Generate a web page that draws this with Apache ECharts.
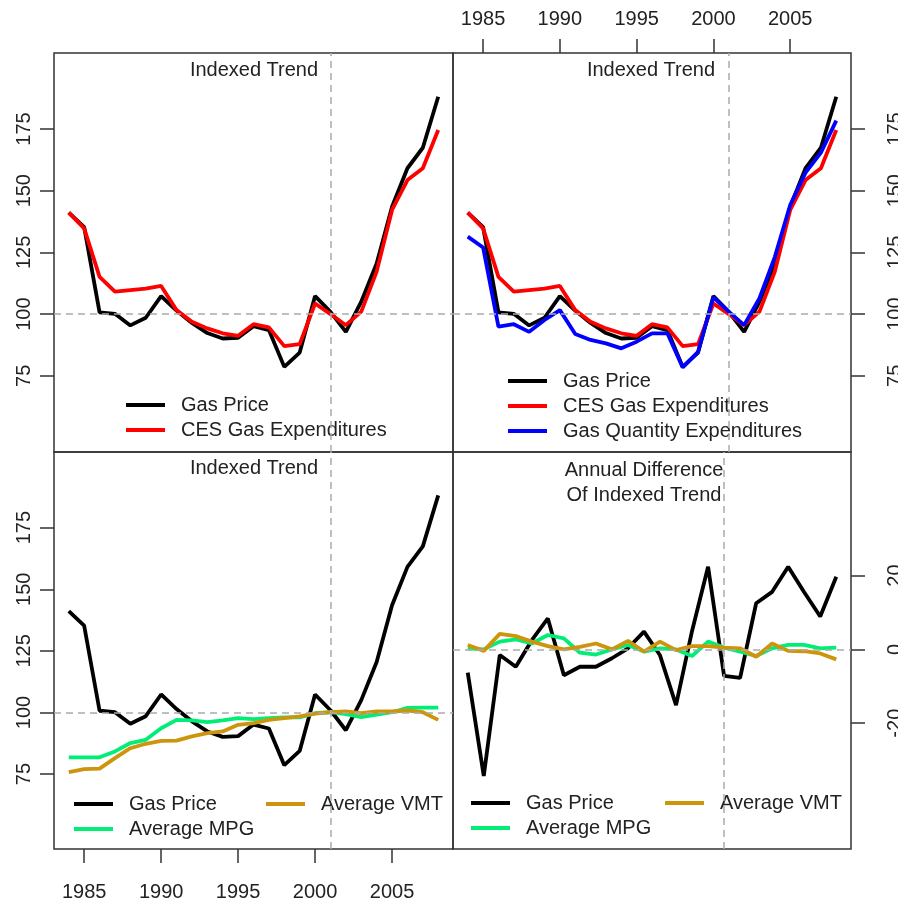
<!DOCTYPE html>
<html>
<head>
<meta charset="utf-8">
<script src="https://cdn.jsdelivr.net/npm/echarts@6/dist/echarts.min.js"></script>
<style>
html,body{margin:0;padding:0;background:#fff;}
#chart{width:898px;height:903px;}
</style>
</head>
<body>
<div id="chart"></div>
<script>
// ---- data ----
const years = [1984,1985,1986,1987,1988,1989,1990,1991,1992,1993,1994,1995,1996,1997,1998,1999,2000,2001,2002,2003,2004,2005,2006,2007,2008];
const gasPrice = [141.1,135.2,100.7,100.1,95.4,98.5,107.3,101.4,96.4,92.3,90.1,90.4,95.1,93.5,78.6,84.4,107.3,100.9,92.8,105.0,120.5,143.5,159.1,167.4,188.1];
const cesGasExp = [141.1,134.7,115.1,109.1,109.7,110.3,111.4,101.6,96.9,94.2,92.2,91.2,95.9,94.6,87.0,87.8,104.3,100.0,95.5,101.0,117.2,142.2,154.3,159.1,174.6];
const gasQtyExp = [131.4,127.0,94.9,95.9,92.8,97.6,101.6,91.9,89.5,88.1,86.1,88.8,92.2,92.2,78.4,84.7,106.8,101.0,95.5,106.4,123.2,144.2,157.3,165.4,178.4];
const avgMPG = [81.8,81.8,81.8,84.2,87.6,88.9,93.6,97.0,96.8,96.1,96.8,97.7,97.3,97.7,98.0,98.0,99.7,100.1,99.3,98.1,99.1,100.1,101.9,102.0,102.0];
const avgVMT = [75.8,77.0,77.2,81.5,85.5,87.3,88.5,88.6,90.3,91.6,92.3,95.0,95.7,97.0,97.7,98.4,99.5,100.1,100.4,99.7,100.4,100.4,100.8,100.1,97.0];

const diffYears = [1985,1986,1987,1988,1989,1990,1991,1992,1993,1994,1995,1996,1997,1998,1999,2000,2001,2002,2003,2004,2005,2006,2007,2008];
const gasPriceDiff = [-6.3,-34.3,-1.5,-4.7,2.5,8.4,-7.0,-4.7,-4.7,-2.4,0.3,4.8,-1.6,-15.1,5.0,22.4,-7.2,-7.7,12.5,15.6,22.4,15.5,8.9,19.7];
const mpgDiff = [0.3,0,2.1,2.7,1.6,3.9,3.0,-0.9,-1.4,0,1.2,-0.6,0.3,0,-1.8,2.1,0.5,-0.6,-1.8,0.3,1.2,1.2,0.3,0.5];
const vmtDiff = [1.2,-0.4,4.2,3.6,2.1,0.9,0,0.7,1.6,0,2.3,-0.6,2.1,-0.2,0.9,0.9,0.5,0.3,-2.0,1.6,-0.4,-0.5,-1.1,-2.7];

const xTicks = [1985,1990,1995,2000,2005];
const yTicksIdx = [75,100,125,150,175];
const yTicksDiff = [-20,0,20];
const refYear = 2001;

// ---- styling ----
const FONT = 'Liberation Sans, Arial, sans-serif';
const TXT = '#222';
const C = {gas:'#000000', ces:'#FF0000', qty:'#0000FF', mpg:'#00EE76', vmt:'#CD950C'};
const LW = 3.8;

function pairs(xs, ys){ return xs.map((x,i)=>[x, ys[i]]); }
const plain = v => String(v);

function refLines(hval){
  return {
    silent:true, symbol:['none','none'], animation:false,
    label:{show:false},
    lineStyle:{color:'#AAAAAA', width:1.5, type:[7,5]},
    data:[{xAxis:refYear},{yAxis:hval}]
  };
}

function lineSeries(name, xi, data, color, mark){
  const s = {
    type:'line', name:name, xAxisIndex:xi, yAxisIndex:xi,
    data:data, showSymbol:false, symbol:'none', animation:false,
    lineStyle:{color:color, width:LW}, itemStyle:{color:color},
    emphasis:{disabled:true}, clip:true
  };
  if (mark) s.markLine = mark;
  return s;
}

const grids = [
  {left:54, top:53, width:399, height:399},
  {left:453, top:53, width:398, height:399},
  {left:54, top:452, width:399, height:397},
  {left:453, top:452, width:398, height:397}
].map(g => Object.assign(g, {show:true, borderColor:'#333', borderWidth:1.5, backgroundColor:'transparent', containLabel:false, outerBoundsMode:'none'}));

function xAxis(gi, min, max, pos){
  const show = !!pos;
  return {
    type:'value', gridIndex:gi, min:min, max:max, position:pos||'bottom',
    splitLine:{show:false}, axisLine:{show:false},
    axisTick:{show:show, inside:false, length:14, lineStyle:{color:'#333', width:1.5}, customValues:xTicks},
    axisLabel:{show:show, color:TXT, fontSize:20, fontFamily:FONT, margin:pos==='top'?24:33, customValues:xTicks, formatter:plain}
  };
}
function yAxis(gi, min, max, pos, ticks){
  const show = !!pos;
  return {
    type:'value', gridIndex:gi, min:min, max:max, position:pos||'left',
    splitLine:{show:false}, axisLine:{show:false},
    axisTick:{show:show, inside:false, length:14, lineStyle:{color:'#333', width:1.5}, customValues:ticks},
    axisLabel:{show:show, color:TXT, fontSize:20, fontFamily:FONT, rotate:90, margin:pos==='right'?34:20, customValues:ticks, formatter:plain}
  };
}

function legend(names, left, top){
  return {
    data:names, orient:'vertical', left:left, top:top, itemGap:5, padding:0,
    icon:'rect', itemWidth:39, itemHeight:4, selectedMode:false,
    textStyle:{color:TXT, fontSize:20, fontFamily:FONT, lineHeight:20, padding:[0,0,0,11]}
  };
}

function title(text, cx, top){
  return {
    text:text, left:cx, top:top, textAlign:'center', padding:0,
    textStyle:{color:TXT, fontSize:20, fontWeight:'normal', fontFamily:FONT, lineHeight:25, align:'center'}
  };
}

const option = {
  animation:false,
  backgroundColor:'#fff',
  grid: grids,
  xAxis: [
    xAxis(0, 1983.04, 2008.96, null),
    xAxis(1, 1983.04, 2008.96, 'top'),
    xAxis(2, 1983.04, 2008.96, 'bottom'),
    xAxis(3, 1984.08, 2008.92, null)
  ],
  yAxis: [
    yAxis(0, 44.1, 205.8, 'left', yTicksIdx),
    yAxis(1, 44.1, 205.8, 'right', yTicksIdx),
    yAxis(2, 44.6, 205.7, 'left', yTicksIdx),
    yAxis(3, -54.1, 53.5, 'right', yTicksDiff)
  ],
  title: [
    title('Indexed Trend', 254, 58),
    title('Indexed Trend', 651, 58),
    title('Indexed Trend', 254, 456),
    title('Annual Difference\nOf Indexed Trend', 644, 458)
  ],
  legend: [
    legend(['Gas Price','CES Gas Expenditures'], 126, 395),
    legend(['Gas Price','CES Gas Expenditures','Gas Quantity Expenditures'], 508, 371),
    legend(['Gas Price','Average MPG'], 74, 794),
    legend(['Average VMT'], 266, 794),
    legend(['Gas Price','Average MPG'], 471, 793),
    legend(['Average VMT'], 665, 793)
  ],
  series: [
    lineSeries('Gas Price', 0, pairs(years, gasPrice), C.gas, refLines(100)),
    lineSeries('CES Gas Expenditures', 0, pairs(years, cesGasExp), C.ces),

    lineSeries('Gas Price', 1, pairs(years, gasPrice), C.gas, refLines(100)),
    lineSeries('CES Gas Expenditures', 1, pairs(years, cesGasExp), C.ces),
    lineSeries('Gas Quantity Expenditures', 1, pairs(years, gasQtyExp), C.qty),

    lineSeries('Gas Price', 2, pairs(years, gasPrice), C.gas, refLines(100)),
    lineSeries('Average MPG', 2, pairs(years, avgMPG), C.mpg),
    lineSeries('Average VMT', 2, pairs(years, avgVMT), C.vmt),

    lineSeries('Gas Price', 3, pairs(diffYears, gasPriceDiff), C.gas, refLines(0)),
    lineSeries('Average MPG', 3, pairs(diffYears, mpgDiff), C.mpg),
    lineSeries('Average VMT', 3, pairs(diffYears, vmtDiff), C.vmt)
  ]
};

const chart = echarts.init(document.getElementById('chart'), null, {renderer:'canvas'});
chart.setOption(option);
</script>
</body>
</html>
